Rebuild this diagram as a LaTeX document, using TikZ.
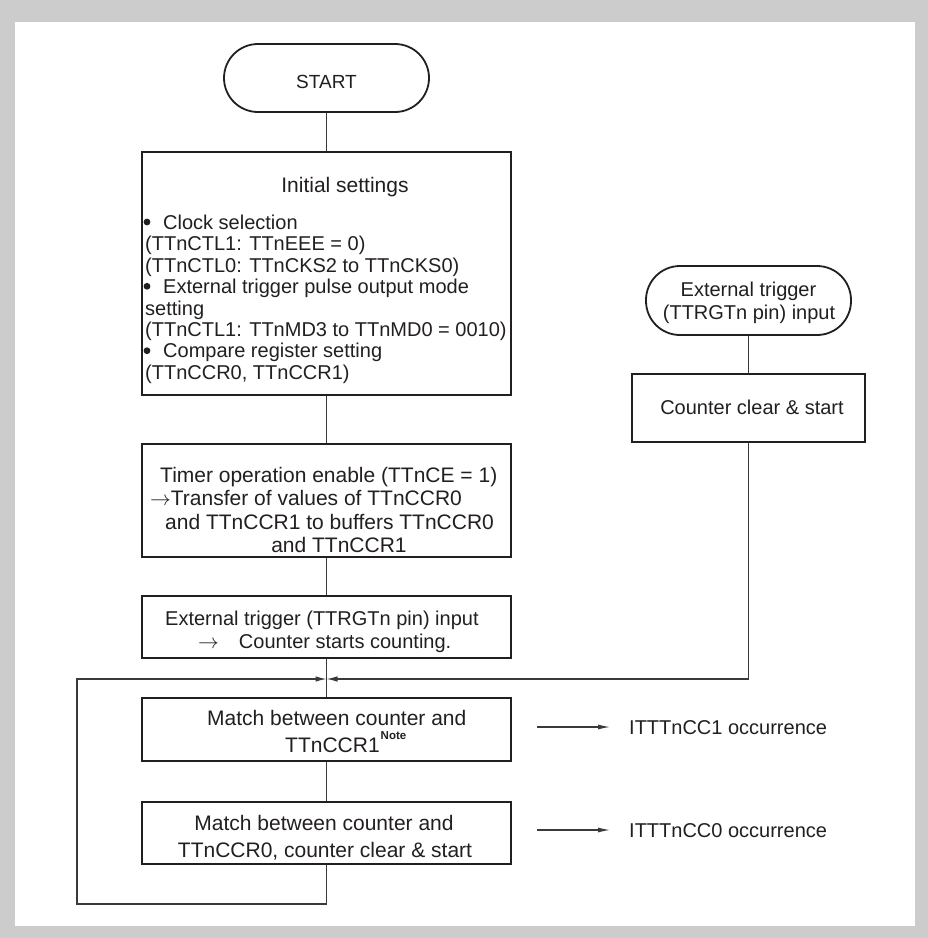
\documentclass[tikz,border=0pt]{standalone}
\usepackage{fontspec}
\setmainfont{Liberation Sans}
\usetikzlibrary{arrows.meta}
\definecolor{framegray}{HTML}{CCCCCC}
\definecolor{ink}{HTML}{231F20}
\definecolor{lineink}{HTML}{3A3A3A}
\begin{document}
\begin{tikzpicture}[x=1pt,y=-1pt,
  box/.style={draw=ink, line width=2pt, rectangle, inner sep=0pt, minimum width=369pt},
  term/.style={draw=ink, line width=1.8pt, rectangle, rounded corners=34pt, inner sep=0pt},
  conn/.style={draw=lineink, line width=1.1pt},
  tip/.style={-{Latex[length=11pt,width=5.5pt]}},
  txt/.style={inner sep=0pt, text=ink, font=\fontsize{21}{25}\selectfont},
  txs/.style={inner sep=0pt, text=ink, font=\fontsize{20}{24}\selectfont},
  bul/.style={fill=ink}
]
\useasboundingbox (0,0) rectangle (928,938);
\fill[framegray] (0,0) rectangle (928,938);
\fill[white] (15,22) rectangle (915,926);

% left column boxes
\node[term, minimum width=205pt, minimum height=68pt] (start) at (326.5,78) {};
\node[box, minimum height=243pt] (init) at (326.5,273.5) {};
\node[box, minimum height=113pt] (timer) at (326.5,500.5) {};
\node[box, minimum height=62pt] (ext) at (326.5,627) {};
\node[box, minimum height=63pt] (m1) at (326.5,729.5) {};
\node[box, minimum height=62pt] (m2) at (326.5,833) {};

% right column
\node[term, minimum width=205pt, minimum height=69pt] (trig) at (748.5,300.5) {};
\node[box, minimum width=233pt, minimum height=68pt] (cc) at (748.5,408) {};

% texts
\node[txt, anchor=base, font=\fontsize{19}{22}\selectfont] (startT) at (326.5,88.8) {START};

\node[txt, anchor=base] (initT) at (345,192) {Initial settings};
\fill[bul] (147,222) circle (3.4pt);
\node[txs, anchor=base west] (i1) at (163,229.2) {Clock selection};
\node[txs, anchor=base west] (i2) at (145,250.6) {(TTnCTL1: TTnEEE = 0)};
\node[txs, anchor=base west] (i3) at (145,272.1) {(TTnCTL0: TTnCKS2 to TTnCKS0)};
\fill[bul] (147,286.3) circle (3.4pt);
\node[txs, anchor=base west] (i4) at (163,293.5) {External trigger pulse output mode};
\node[txs, anchor=base west] (i5) at (145,315.0) {setting};
\node[txs, anchor=base west] (i6) at (145,336.4) {(TTnCTL1: TTnMD3 to TTnMD0 = 0010)};
\fill[bul] (147,350.7) circle (3.4pt);
\node[txs, anchor=base west] (i7) at (163,357.9) {Compare register setting};
\node[txs, anchor=base west] (i8) at (145,379.3) {(TTnCCR0, TTnCCR1)};

\node[txt, anchor=base west] (t1) at (160,482.5) {Timer operation enable (TTnCE = 1)};
\node[txt, anchor=base west] (t2) at (150,505.9) {$\rightarrow$Transfer of values of TTnCCR0};
\node[txt, anchor=base west] (t3) at (165,529.3) {and TTnCCR1 to buffers TTnCCR0};
\node[txt, anchor=base] (t4) at (339,552.7) {and TTnCCR1};

\node[txs, anchor=base west] (e1) at (165,625.5) {External trigger (TTRGTn pin) input};
\node[txs, anchor=base west] (e2) at (198,648.5) {$\rightarrow$\hspace{20pt}Counter starts counting.};

\node[txt, anchor=base west] (ma1) at (207,725.5) {Match between counter and};
\node[txt, anchor=base west] (ma2) at (285,752.5) {TTnCCR1};
\node[inner sep=0pt, text=ink, font=\fontsize{11.5}{12}\selectfont\bfseries, anchor=base west] (note) at (380.5,739) {Note};

\node[txt, anchor=base] (mb1) at (324,830.5) {Match between counter and};
\node[txt, anchor=base] (mb2) at (325,857.5) {TTnCCR0, counter clear \& start};

\node[txs, anchor=base] (tr1) at (748.5,296) {External trigger};
\node[txs, anchor=base] (tr2) at (749,319) {(TTRGTn pin) input};
\node[txs, anchor=base] (ccT) at (752,414) {Counter clear \& start};

\node[txs, anchor=base west] (o1) at (629,734) {ITTTnCC1 occurrence};
\node[txs, anchor=base west] (o2) at (629,837) {ITTTnCC0 occurrence};

% connectors
\coordinate (j) at (326.5,679);
\coordinate (lb) at (77,904);
\coordinate (r1s) at (537,727);
\coordinate (r1e) at (610,727);
\coordinate (r2s) at (537,830);
\coordinate (r2e) at (610,830);
\draw[conn] (start.south) -- (init.north);
\draw[conn] (init.south) -- (timer.north);
\draw[conn] (timer.south) -- (ext.north);
\draw[conn] (ext.south) -- (m1.north);
\draw[conn] (m1.south) -- (m2.north);
\draw[conn, tip] (m2.south) |- (lb) |- (j);
\draw[conn] (trig.south) -- (cc.north);
\draw[conn, tip] (cc.south) |- (j);
\draw[conn, -{Latex[length=12pt,width=5pt]}] (r1s) -- (r1e);
\draw[conn, -{Latex[length=12pt,width=5pt]}] (r2s) -- (r2e);
\end{tikzpicture}
\end{document}
